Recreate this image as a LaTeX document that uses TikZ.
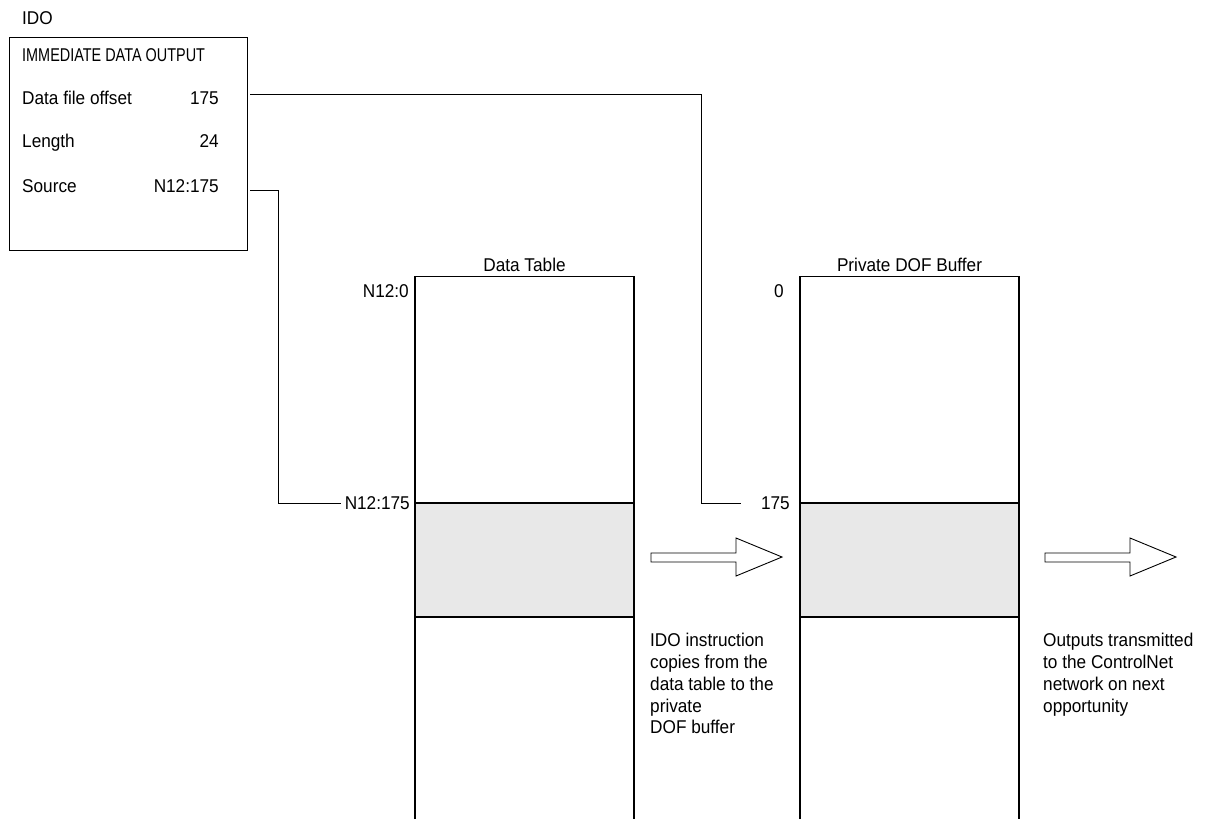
\documentclass[tikz,border=0pt]{standalone}
\usepackage{fontspec}
\setmainfont[FakeStretch=0.93]{Liberation Sans}
\newfontfamily\capsfont[FakeStretch=0.78]{Liberation Sans}
\begin{document}
\begin{tikzpicture}[x=1pt,y=-1pt,
  lbl/.style={inner sep=0pt,font=\fontsize{18.5}{21.8}\selectfont},
  wire/.style={line width=1pt,black},
  frame/.style={line width=1.1pt,black},
  blockarrow/.style={draw=black,fill=white,line width=0.9pt,line join=miter}]
\useasboundingbox (0,0) rectangle (1217,819);
% IDO instruction box
\node[lbl,anchor=base west] (ido) at (22,24) {IDO};
\node[draw=black,line width=1.1pt,minimum width=238pt,minimum height=213pt,inner sep=0pt,anchor=north west] (box) at (9,37) {};
\node[lbl,anchor=base west] (title) at (22,61) {\capsfont IMMEDIATE DATA OUTPUT};
\node[lbl,anchor=base west] (dfo) at (22,104) {Data file offset};
\node[lbl,anchor=base east] (dfov) at (219,104) {175};
\node[lbl,anchor=base west] (len) at (22,147) {Length};
\node[lbl,anchor=base east] (lenv) at (219,147) {24};
\node[lbl,anchor=base west] (src) at (22,192) {Source};
\node[lbl,anchor=base east] (srcv) at (219,192) {N12:175};
% Data table
\fill[gray!18!white] (415,503) rectangle (634,617);
\draw[frame] (415,819) -- (415,276.5) -- (634,276.5) -- (634,819);
\draw[frame] (415,503) -- (634,503) (415,617) -- (634,617);
\node[lbl,anchor=base] (dttitle) at (524.5,271) {Data Table};
\node[lbl,anchor=base east] (dt0) at (409,297) {N12:0};
\node[lbl,anchor=base east] (dt175) at (410,509) {N12:175};
% Private DOF buffer
\fill[gray!18!white] (800,503) rectangle (1019,617);
\draw[frame] (800,819) -- (800,276.5) -- (1019,276.5) -- (1019,819);
\draw[frame] (800,503) -- (1019,503) (800,617) -- (1019,617);
\node[lbl,anchor=base] (dbtitle) at (909.5,271) {Private DOF Buffer};
\node[lbl,anchor=base east] (db0) at (784,297) {0};
\node[lbl,anchor=base east] (db175) at (790,509) {175};
% connectors
\coordinate (c1a) at (250,94);
\coordinate (c1b) at (741,503);
\coordinate (c2a) at (250,190);
\coordinate (c2b) at (341,503);
\draw[wire] (c1a) -| (701,503) -- (c1b);
\draw[wire] (c2a) -| (278,503) -- (c2b);
% block arrows
\draw[blockarrow] (651,553) -- (736,553) -- (736,538) -- (782,557) -- (736,576) -- (736,562) -- (651,562) -- cycle;
\draw[blockarrow] (1045,553) -- (1130,553) -- (1130,538) -- (1176,557) -- (1130,576) -- (1130,562) -- (1045,562) -- cycle;
% notes
\node[lbl,anchor=north west,align=left] (note1) at (650,633) {IDO instruction\\copies from the\\data table to the\\private\\DOF buffer};
\node[lbl,anchor=north west,align=left] (note2) at (1043,633) {Outputs transmitted\\to the ControlNet\\network on next\\opportunity};
\end{tikzpicture}
\end{document}
